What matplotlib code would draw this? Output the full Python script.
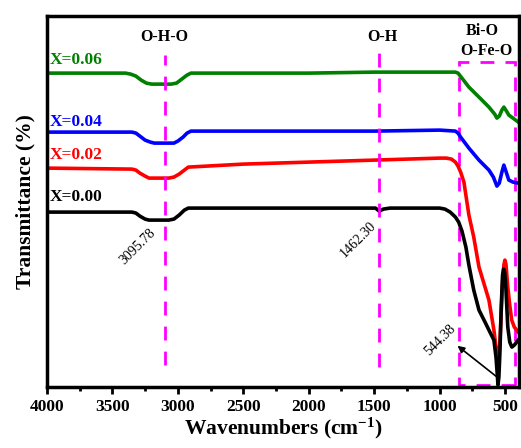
import matplotlib
matplotlib.use('Agg')
import matplotlib.pyplot as plt
from matplotlib.patches import Rectangle

plt.rcParams['font.family'] = 'Liberation Serif'
plt.rcParams['font.weight'] = 'bold'
plt.rcParams['mathtext.fontset'] = 'custom'
plt.rcParams['mathtext.rm'] = 'Liberation Serif:bold'
plt.rcParams['mathtext.default'] = 'rm'

# spectra (wavenumber, transmittance offset in arbitrary units)
w_g = [4000, 3400, 3360, 3320, 3280, 3240, 3200, 3050, 3010, 2970, 2930, 2900, 2500, 2000, 1500, 1000, 880, 860, 830, 777, 700, 624, 580, 563, 545, 525, 510, 490, 472, 440, 400]
t_g = [314, 314, 313, 311, 307, 304, 303, 303, 304, 308, 312, 314, 314, 314, 315, 315, 315, 314, 309, 300, 290, 280, 273, 269, 271, 277, 280, 276, 272, 269, 265]

w_b = [4000, 3350, 3320, 3290, 3250, 3210, 3180, 3030, 3000, 2960, 2930, 2900, 2500, 2000, 1500, 1000, 880, 860, 840, 777, 700, 624, 590, 563, 545, 525, 510, 492, 472, 440, 400]
t_b = [255, 255, 254, 251, 247, 245, 244, 244, 246, 250, 254, 256, 256, 256, 256, 257, 256, 254, 250, 239, 227, 217, 210, 201, 204, 215, 222, 215, 207, 205, 204]

w_r = [4000, 3350, 3320, 3290, 3250, 3220, 3070, 3030, 2990, 2950, 2920, 2500, 2000, 1500, 1000, 950, 910, 880, 860, 840, 815, 777, 740, 700, 624, 586, 563, 550, 540, 530, 520, 510, 502, 494, 480, 465, 450, 430, 400]
t_r = [219, 218, 217, 214, 211, 209, 209, 210, 213, 217, 220, 223, 225, 227, 229, 229, 228, 225, 221, 215, 205, 172, 150, 120, 87, 57, 32, 30, 45, 75, 105, 122, 127, 123, 100, 82, 67, 60, 55]

w_k = [4000, 3350, 3320, 3290, 3250, 3220, 3070, 3030, 2990, 2950, 2920, 2500, 2000, 1550, 1490, 1462, 1430, 1380, 1000, 960, 920, 880, 855, 830, 800, 777, 740, 700, 650, 624, 586, 570, 560, 555, 548, 540, 530, 520, 512, 504, 495, 480, 465, 449, 430, 400]
t_k = [175, 175, 174, 171, 168, 167, 167, 168, 172, 177, 179, 179, 179, 179, 179, 176, 178, 179, 179, 178, 175, 170, 165, 156, 140, 122, 97, 77, 64, 57, 47, 30, 12, 2, 10, 35, 80, 112, 118, 115, 100, 60, 45, 40, 42, 47]

series = [(w_g, t_g, 'green', 'X=0.06', 327),
          (w_b, t_b, 'blue', 'X=0.04', 265),
          (w_r, t_r, 'red', 'X=0.02', 232),
          (w_k, t_k, 'black', 'X=0.00', 190)]

peaks = ['3095.78', '1462.30', '544.38']

fig = plt.figure(figsize=(5.21, 4.48), dpi=100)
ax = fig.add_axes([0.090, 0.136, 0.906, 0.828])

for w, t, c, lab, ly in series:
    ax.plot(w, t, color=c, lw=2.6, solid_joinstyle='round')
    ax.text(3975, ly, lab, color=c, fontsize=12.5, fontweight='bold', va='center')

# magenta guide lines
ax.plot([3095.78, 3095.78], [22, 332], color='magenta', lw=2, ls=(0, (5, 4)))
ax.plot([1462.30, 1462.30], [20, 339], color='magenta', lw=2, ls=(0, (5, 4)))
ax.add_patch(Rectangle((426, 2), 853 - 426, 323, fill=False, ec='magenta',
                       lw=2, ls=(0, (5, 4))))

ax.text(3100, 350, 'O-H-O', fontsize=11.5, fontweight='bold', ha='center', va='center')
ax.text(1440, 350, 'O-H', fontsize=11.5, fontweight='bold', ha='center', va='center')
ax.text(678, 356, 'Bi-O', fontsize=11.5, fontweight='bold', ha='center', va='center')
ax.text(647, 336, 'O-Fe-O', fontsize=11.5, fontweight='bold', ha='center', va='center')

ax.text(3304, 140, peaks[0], fontsize=10, fontweight='normal', rotation=45, ha='center', va='center')
ax.text(1622, 147, peaks[1], fontsize=10, fontweight='normal', rotation=45, ha='center', va='center')
ax.text(995, 47, peaks[2], fontsize=10, fontweight='normal', rotation=45, ha='center', va='center')
ax.annotate('', xy=(881, 43), xytext=(552, 9),
            arrowprops=dict(arrowstyle='-|>', color='black', lw=1.2, mutation_scale=10))

ax.set_xlim(4000, 395)
ax.set_ylim(0, 371)
ax.set_xticks([4000, 3500, 3000, 2500, 2000, 1500, 1000, 500])
ax.set_xticks(range(3750, 400, -500), minor=True)
ax.set_yticks([])
ax.tick_params(axis='x', which='major', direction='out', length=5, width=2, labelsize=12.5)
ax.tick_params(axis='x', which='minor', direction='out', length=3, width=2)
for lab in ax.get_xticklabels():
    lab.set_fontweight('bold')
for sp in ax.spines.values():
    sp.set_linewidth(2.5)

ax.set_xlabel('Wavenumbers (cm$^{-1}$)', fontsize=15.5, fontweight='bold', labelpad=1)
ax.set_ylabel('Transmittance (%)', fontsize=15.5, fontweight='bold', labelpad=8)

fig.savefig('out.png', dpi=100)
